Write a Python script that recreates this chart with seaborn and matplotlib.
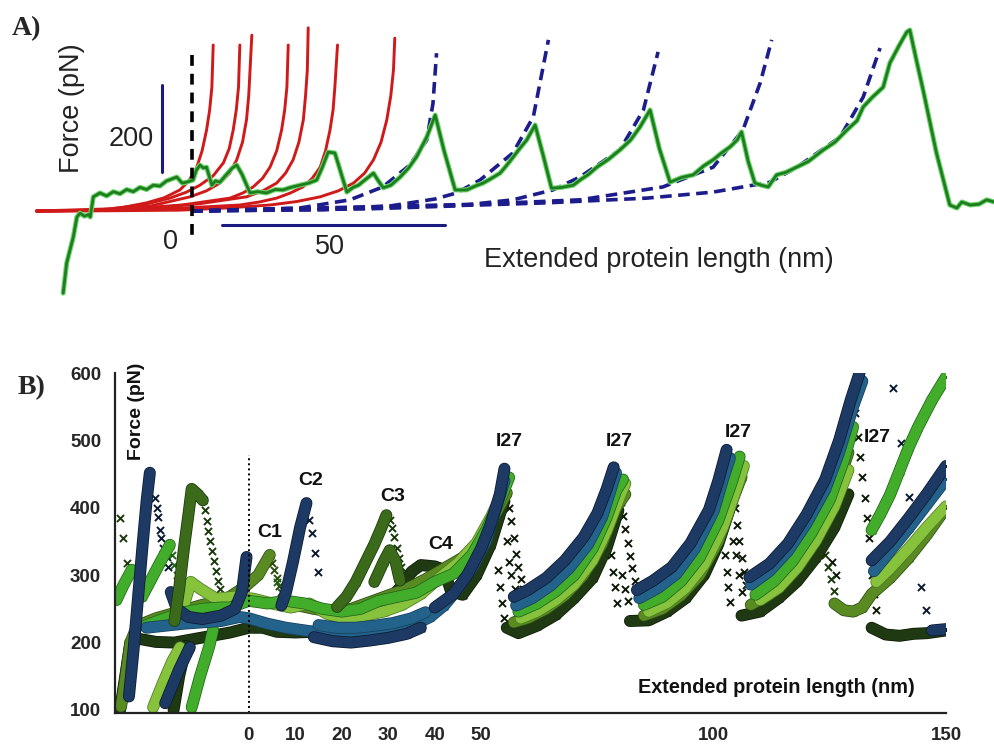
import matplotlib
matplotlib.use("Agg")
import matplotlib.pyplot as plt
import matplotlib.patheffects as pe
import pandas as pd
import seaborn as sns

# ---------------- Panel A data (nm, pN) ----------------
a_trace_x = [-28.8, -28.0, -26.5, -25.7, -25.0, -24.0, -23.0, -22.7, -22.0, -20.5, -19.0, -17.5, -16.0,
             -14.5, -13.0, -11.5, -10.0, -8.5, -7.0, -5.5, -4.2, -3.2, -2.0, -1.0, 0.45, 1.2, 2.0, 2.8,
             3.5, 4.7, 5.5, 6.5, 8.0, 9.3, 10.3, 11.5, 13.3, 15.0, 17.0, 19.0, 20.7, 22.5, 24.5, 26.5,
             28.3, 29.5, 30.9, 32.4, 35.1, 36.5, 37.7, 39.5, 41.1, 42.2, 43.3, 45.0, 47.1, 49.0, 50.8,
             52.0, 53.1, 55.0, 57.0, 59.5, 62.1, 64.0, 65.8, 67.5, 69.6, 71.0, 72.6, 74.0, 75.6, 77.5,
             79.3, 81.2, 83.5, 86.1, 87.6, 89.5, 91.4, 94.0, 96.6, 99.0, 101.1, 103.4, 105.5, 107.9,
             110.5, 113.1, 115.5, 117.6, 119.5, 121.4, 123.0, 124.0, 125.5, 127.0, 128.5, 130.0, 131.9,
             134.0, 136.4, 139.0, 142.4, 145.0, 147.7, 150.0, 151.4, 153.5, 155.9, 157.4, 159.5, 161.2,
             161.9, 163.4, 164.9, 167.9, 170.9, 172.5, 173.6, 175.5, 177.5, 179.2, 180.9]
a_trace_f = [-191, -121, -60, -14, -5, -12, -8, -14, 33, 42, 35, 45, 40,
             50, 45, 55, 50, 60, 58, 70, 75, 79, 65, 67, 72, 95, 107, 100,
             102, 60, 70, 67, 85, 100, 107, 85, 42, 45, 42, 50, 49, 55, 60, 65,
             72, 100, 137, 135, 44, 55, 60, 75, 88, 70, 54, 60, 79, 100, 126,
             150, 172, 223, 140, 49, 49, 58, 65, 75, 88, 105, 126, 145, 165, 200,
             130, 53, 55, 60, 72, 85, 102, 120, 142, 165, 195, 235, 145, 67,
             78, 84, 105, 119, 135, 149, 165, 184, 115, 65, 60, 56, 84,
             90, 102, 115, 142, 160, 188, 210, 242, 265, 288, 344, 385, 416,
             421, 350, 281, 135, 14, 7, 21, 14, 16, 26, 21]

red_fit_x = [[-34.8, -21.2, -15.5, -10.0, -6.0, -2.5, -0.5, 1.3, 2.5, 3.5, 4.2, 4.7, 5.0],
             [-34.8, -18.2, -11.0, -4.7, -1.0, 2.0, 5.0, 7.3, 8.6, 9.5, 10.2, 10.7, 11.0],
             [-34.8, -18.2, -9.0, -0.2, 3.5, 6.5, 8.7, 10.3, 11.6, 12.5, 13.0, 13.3, 13.7],
             [-34.8, -25.0, -13.7, -2.0, 8.8, 11.7, 14.0, 16.1, 17.8, 19.3, 20.4, 21.1, 21.6, 21.9],
             [-34.8, -22.0, -9.2, 2.0, 12.5, 16.2, 19.3, 21.3, 23.0, 24.3, 25.3, 25.8, 26.2, 26.4],
             [-34.8, -21.0, -7.0, 2.0, 11.0, 15.4, 19.3, 22.4, 25.2, 27.3, 29.1, 30.3, 31.3, 32.0, 32.4, 33.0],
             [-34.8, -19.0, -2.5, 8.0, 17.8, 23.8, 29.1, 33.2, 36.6, 39.1, 41.1, 42.8, 44.1, 45.0, 45.6, 45.9]]
red_fit_f = [[0, 2, 8, 19, 31, 49, 70, 102, 140, 188, 235, 288, 386],
             [0, 5, 14, 30, 44, 60, 82, 112, 145, 188, 235, 288, 386],
             [0, 2, 12, 33, 47, 65, 88, 119, 160, 212, 268, 328, 409],
             [0, 1, 5, 14, 30, 42, 56, 76, 102, 140, 188, 235, 288, 386],
             [0, 2, 7, 17, 33, 47, 65, 88, 119, 160, 212, 268, 328, 426],
             [0, 1, 5, 9, 14, 21, 30, 42, 56, 76, 102, 140, 188, 235, 288, 386],
             [0, 0.5, 2, 7, 14, 22, 33, 47, 65, 88, 119, 160, 212, 268, 328, 402]]

blue_fit_x = [[0, 24.5, 35.8, 43.2, 49.3, 53.1, 54.5, 55.3],
              [0, 30, 45, 55, 59.8, 65.1, 72.5, 77.1, 80.5],
              [0, 40, 60, 72.5, 81.5, 87.6, 96.6, 101.9, 105.2],
              [0, 65.1, 87.6, 106.3, 117.6, 124.3, 128.2, 130.8],
              [0, 65.1, 80.2, 102.7, 117.6, 130.4, 136.5, 146.2, 151.4, 155.2]]
blue_fit_f = [[0, 7, 26, 56, 107, 165, 250, 367],
              [0, 3, 12, 28, 42, 72, 135, 219, 398],
              [0, 5, 12, 26, 49, 79, 142, 235, 370],
              [0, 16, 26, 56, 102, 188, 298, 398],
              [0, 14, 19, 30, 44, 67, 102, 172, 265, 379]]

# ---------------- Panel B data (nm, pN) ----------------
navy_segs = [
    [(-25.8, 120), (-24.8, 190), (-23.8, 270), (-22.8, 350), (-22.0, 410), (-21.3, 452)],
    [(-16.8, 275), (-15.5, 250), (-13, 238), (-10, 235), (-6, 240), (-3, 250), (-1.5, 275), (-0.5, 327)],
    [(-18, 110), (-15, 160), (-12.7, 193)],
    [(7, 255), (8, 275), (9.5, 320), (11, 370), (12.4, 407)],
    [(14, 208), (18, 202), (22, 200), (26, 203), (30, 207), (34, 213), (37, 222)],
    [(40, 252), (44, 272), (47, 300), (50, 340), (52, 375), (54, 420), (55, 458)],
    [(57, 268), (60, 278), (64, 296), (68, 322), (72, 356), (75, 392), (77, 428), (78.5, 460)],
    [(83.5, 278), (87, 292), (91, 312), (95, 347), (99, 397), (101, 440), (102.8, 486)],
    [(107.7, 297), (112, 317), (116, 347), (120, 390), (124, 442), (127, 500), (129.5, 560), (131.4, 600)],
    [(134, 322), (138, 350), (142, 385), (146, 422), (150, 462)],
    [(147, 218), (150, 220)]]
navy_pts = [(-20.2, 415), (-19.8, 400), (-19.5, 386), (-19.1, 367), (-18.8, 355), (-18.4, 340),
            (-17.7, 327), (-17.4, 312), (13, 382), (13.6, 363), (14.2, 333), (14.9, 305),
            (138.5, 578), (140.4, 496), (142, 416), (144.7, 283), (145.8, 248)]

teal_segs = [
    [(-22, 222), (-18, 225), (-14, 228), (-10, 230), (-6, 232), (-2, 238), (0, 236), (4, 228), (8, 222),
     (12, 218), (16, 214), (20, 212), (24, 213), (28, 216), (32, 220), (36, 228), (39, 238), (42, 255),
     (45, 280), (48, 310), (51, 350), (53, 395), (55, 440)],
    [(15, 226), (19, 222), (23, 222), (27, 225), (31, 229), (35, 236), (38, 245)],
    [(57.5, 255), (61, 266), (65, 285), (69, 311), (73, 346), (76, 386), (78, 430), (79, 452)],
    [(84, 266), (88, 281), (92, 302), (96, 340), (100, 395), (102, 442), (103.5, 474)],
    [(108, 286), (112, 306), (116, 336), (120, 377), (124, 427), (127, 482), (130, 550), (132, 588)],
    [(134.5, 306), (138, 336), (142, 370), (146, 406), (150, 442)]]

bright_segs = [
    [(-28.5, 263), (-27, 285), (-25.2, 308)],
    [(-23, 268), (-21, 294), (-19, 320), (-17, 345)],
    [(-12.3, 104), (-10.5, 150), (-8.5, 195), (-7.7, 219)],
    [(-22, 226), (-18, 236), (-14, 245), (-10, 250), (-6, 252), (-4, 252), (0, 262), (4, 258), (8, 262),
     (12, 258), (16, 250), (20, 246), (24, 250), (28, 262), (32, 268), (36, 274), (40, 290), (44, 302),
     (48, 330), (51, 366), (54, 410), (56, 445)],
    [(58, 246), (62, 258), (66, 276), (70, 300), (74, 340), (77, 386), (79, 425), (80.5, 442)],
    [(85, 256), (89, 268), (93, 291), (97, 326), (101, 381), (104, 440), (105.6, 476)],
    [(109, 271), (113, 291), (117, 321), (121, 362), (125, 412), (128, 470), (130, 520)],
    [(134, 367), (136, 392), (138, 420), (140, 455), (142, 490), (144, 520), (147, 560), (150, 594)]]
bright_pts = [(6, 290), (7, 275), (-16.5, 330), (-16, 315), (-15.5, 300)]

lime_segs = [
    [(-20.6, 104), (-18.5, 140), (-16.5, 172), (-14.8, 193)],
    [(-14, 255), (-12.5, 290), (-10.5, 280), (-7, 265), (-3, 268), (1, 265), (5, 258), (9, 252), (13, 258),
     (17, 242), (21, 236), (25, 240), (29, 246), (33, 256), (37, 272), (41, 296), (45, 318), (49, 348),
     (52, 385), (55, 428)],
    [(58.5, 236), (62, 246), (66, 263), (70, 286), (74, 322), (77, 366), (80, 420), (81, 436)],
    [(86, 246), (90, 259), (94, 281), (98, 316), (102, 371), (105, 430), (106.5, 462)],
    [(110, 263), (114, 281), (118, 311), (122, 351), (126, 402), (129, 456)],
    [(135, 290), (138, 310), (142, 340), (146, 372), (150, 402)]]

olive_segs = [
    [(-27.5, 105), (-26.5, 150), (-25.5, 200), (-24, 225), (-20, 236), (-15, 246), (-10, 256), (-5, 264),
     (-1, 282), (2, 300), (4.5, 330)],
    [(7, 262), (10, 256), (14, 250), (18, 246), (22, 250), (26, 260), (30, 270), (34, 280), (38, 294),
     (42, 310), (46, 326), (50, 352), (53, 390), (55.5, 422)],
    [(57, 230), (60, 236), (64, 250), (68, 270), (72, 300), (76, 346), (79, 400), (81, 420)],
    [(85, 240), (89, 250), (93, 270), (97, 300), (101, 350), (104, 410), (106, 446)],
    [(108, 256), (112, 271), (116, 296), (120, 336), (124, 386), (127, 441), (129, 482)],
    [(126, 258), (128, 248), (130, 246), (132, 252), (134, 272), (138, 296), (142, 326), (146, 361), (150, 400)]]
olive_pts = [(5, 318), (5.5, 307), (6, 296), (6.5, 284)]

dkolive_segs = [
    [(-16, 232), (-15, 280), (-14, 338), (-13, 390), (-12.3, 428), (-11, 420), (-9.9, 411)],
    [(19, 253), (21, 268), (23, 290), (25, 318), (27, 346), (28.5, 370), (29.6, 389)],
    [(27, 290), (29, 320), (30.3, 337), (31.5, 322), (32.5, 292)]]
dkolive_pts = [(-27.7, 385), (-27, 355), (-26.3, 318), (-9.5, 396), (-9.1, 381), (-8.7, 366), (-8.3, 351),
               (-7.9, 336), (-7.5, 321), (-7.1, 306), (-6.7, 292), (-6.3, 279), (-5.9, 268),
               (30.3, 382), (30.8, 370), (31.3, 356), (31.8, 341), (32.3, 326), (32.8, 312), (33.2, 300),
               (124, 330), (124.6, 312), (125.2, 294), (125.8, 276)]

dark_segs = [
    [(-27.7, 100), (-26.6, 150), (-25.5, 200), (-24, 206), (-20, 201), (-16, 200), (-12, 205), (-8, 210),
     (-4, 215), (0, 222), (3, 222), (6, 216), (10, 215), (14, 216), (18, 225), (22, 236), (26, 246),
     (30, 262), (33, 285), (35, 305), (37, 315), (40, 313), (42, 308), (43.5, 276), (46, 271), (49, 300),
     (52, 345), (54, 390), (55, 410)],
    [(-16.2, 100), (-15, 150), (-13.5, 195)],
    [(55.5, 222), (58, 214), (62, 225), (66, 241), (70, 266), (74, 296), (77, 341), (79.5, 396)],
    [(82, 232), (86, 233), (90, 246), (94, 266), (98, 301), (101, 346), (104, 410)],
    [(106, 240), (110, 246), (114, 266), (118, 291), (122, 326), (126, 371), (129, 420)],
    [(134, 222), (137, 212), (140, 210), (143, 213), (146, 214), (150, 218)]]
dark_pts = [(53.5, 308), (54, 282), (54.4, 258), (54.8, 236), (56, 400), (56.5, 380), (57, 355), (57.5, 332),
            (58, 312), (58.5, 295), (59, 280), (59.5, 266), (60, 252), (55.5, 350), (56, 320), (56.5, 300),
            (57.2, 280), (58, 262), (79.5, 430), (80, 408), (80.5, 388), (81, 368), (81.5, 348), (82, 328),
            (82.5, 310), (83, 292), (83.5, 278), (78, 330), (78.3, 305), (78.7, 282), (79.2, 258),
            (80.2, 300), (81, 280), (81.6, 262), (103.5, 452), (104, 425), (104.5, 400), (105, 375),
            (105.5, 350), (106, 326), (106.5, 305), (107, 285), (102.5, 330), (102.8, 305), (103.2, 282),
            (103.6, 260), (104.8, 330), (105.4, 300), (106, 275), (104.2, 350), (130.5, 540), (131, 505),
            (131.5, 475), (132, 445), (132.5, 415), (133, 385), (133.5, 355), (134, 300), (134.5, 272),
            (135, 248), (125.5, 320), (126.3, 300)]

b_xticks = [-20, -10, 0, 10, 20, 30, 40, 50, 60, 70, 80, 90, 100, 110, 120, 130, 140, 150]
b_xticklabels = ["", "", "0", "10", "20", "30", "40", "50", "", "", "", "", "100", "", "", "", "", "150"]
b_yticks = [100, 200, 300, 400, 500, 600]
b_labels = [("C1", 4.5, 364), ("C2", 13.2, 441), ("C3", 30.9, 417), ("C4", 41.3, 345),
            ("I27", 56.1, 499), ("I27", 79.8, 499), ("I27", 105.2, 512), ("I27", 135.3, 505)]

# ---------------- drawing ----------------
sns.set_style("white")
plt.rcParams["font.family"] = ["Liberation Sans", "DejaVu Sans"]

W, H = 994, 747
fig = plt.figure(figsize=(W / 100, H / 100), dpi=100)

# ----- Panel A -----
axA = fig.add_axes([0, 1 - 310 / H, 1, 310 / H])
axA.set_xlim(-43.02, 180.86)
axA.set_ylim(-230.2, 490.7)
axA.axis("off")

red = "#d01a1a"
for xs, fs in zip(red_fit_x, red_fit_f):
    sns.lineplot(x=xs, y=fs, sort=False, estimator=None, color=red, lw=2.1, ax=axA,
                 solid_joinstyle="round")
for xs, fs in zip(blue_fit_x, blue_fit_f):
    sns.lineplot(x=xs, y=fs, sort=False, estimator=None, color="#1c1c8c", lw=2.6, ax=axA,
                 linestyle=(0, (3.2, 1.8)))
sns.lineplot(x=a_trace_x, y=a_trace_f, sort=False, estimator=None, color="#1e7d1e", lw=2.0, ax=axA,
             path_effects=[pe.Stroke(linewidth=3.6, foreground="#6ad46a"), pe.Normal()])

axA.plot([0.3, 0.3], [363, -72], color="black", lw=2.6, linestyle=(0, (3, 2.2)))
axA.plot([-6.5, -6.5], [91, 293], color="#1a1a80", lw=2.2)
axA.plot([6.9, 57.2], [-32.6, -32.6], color="#1a1a80", lw=2.2)

tA = dict(fontsize=19.5, color="#222222")
axA.text(-26.8, 240, "Force (pN)", rotation=90, ha="center", va="center", **tA)
axA.text(-13.5, 167, "200", ha="center", va="center", **tA)
axA.text(-4.6, -73, "0", ha="center", va="center", **tA)
axA.text(31.3, -84, "50", ha="center", va="center", **tA)
axA.text(105.4, -113, "Extended protein length (nm)", ha="center", va="center", **tA)

fig.text(12 / W, 1 - 29 / H, "A)", fontsize=20, fontweight="bold", ha="left", va="center",
         family=["Liberation Serif", "DejaVu Serif"])
fig.text(18 / W, 1 - 388 / H, "B)", fontsize=20, fontweight="bold", ha="left", va="center",
         family=["Liberation Serif", "DejaVu Serif"])

# ----- Panel B -----
axB = fig.add_axes([115 / W, 1 - 713 / H, (946 - 115) / W, (713 - 373) / H])
axB.set_xlim(-28.8, 150)
axB.set_ylim(95.5, 600)


def seg_frame(segs):
    rows = [(i, x, f) for i, s in enumerate(segs) for x, f in s]
    return pd.DataFrame(rows, columns=["seg", "x", "F"])


groups = [
    (dark_segs, dark_pts, "#1f3a12", "#0d1a08"),
    (olive_segs, olive_pts, "#5a8a22", "#2c4c12"),
    (lime_segs, [], "#86c23c", "#4a7a22"),
    (bright_segs, bright_pts, "#42ad2b", "#22641a"),
    (teal_segs, [], "#23628a", "#17405c"),
    (navy_segs, navy_pts, "#1c3a64", "#0c1a30"),
    (dkolive_segs, dkolive_pts, "#3a6a1a", "#1a3a0c"),
]
for segs, pts, col, edge in groups:
    df = seg_frame(segs)
    sns.lineplot(data=df, x="x", y="F", units="seg", estimator=None, sort=False, color=col, lw=7.5,
                 ax=axB, legend=False, solid_joinstyle="round", solid_capstyle="round",
                 path_effects=[pe.Stroke(linewidth=8.6, foreground=edge), pe.Normal()])
    sns.scatterplot(data=df, x="x", y="F", marker="x", color=edge, s=30, linewidth=1.1, ax=axB,
                    legend=False)
    if pts:
        sns.scatterplot(x=[p[0] for p in pts], y=[p[1] for p in pts], marker="x", color=edge, s=26,
                        linewidth=1.4, ax=axB, legend=False)

axB.plot([0, 0], [95.5, 478], color="black", lw=1.4, linestyle=(0, (1, 1.6)))

for lab, x, f in b_labels:
    axB.text(x, f, lab, ha="center", va="center", fontsize=14, fontweight="bold", color="#111111")
axB.text(-24.1, 543, "Force (pN)", rotation=90, ha="center", va="center", fontsize=14,
         fontweight="bold", color="#111111", clip_on=False)
axB.text(113.4, 132.6, "Extended protein length (nm)", ha="center", va="center", fontsize=14.3,
         fontweight="bold", color="#111111")

axB.set_xticks(b_xticks)
axB.set_xticklabels(b_xticklabels)
axB.set_yticks(b_yticks)
axB.set_xlabel("")
axB.set_ylabel("")
for sp in ["top", "right"]:
    axB.spines[sp].set_visible(False)
for sp in ["left", "bottom"]:
    axB.spines[sp].set_color("#222222")
    axB.spines[sp].set_linewidth(1.6)
axB.tick_params(axis="both", direction="out", length=6, width=1.6, color="#222222",
                labelsize=13.5, pad=4)
for t in axB.get_xticklabels() + axB.get_yticklabels():
    t.set_fontweight("bold")
axB.patch.set_alpha(0)

fig.savefig("out.png", dpi=100)
